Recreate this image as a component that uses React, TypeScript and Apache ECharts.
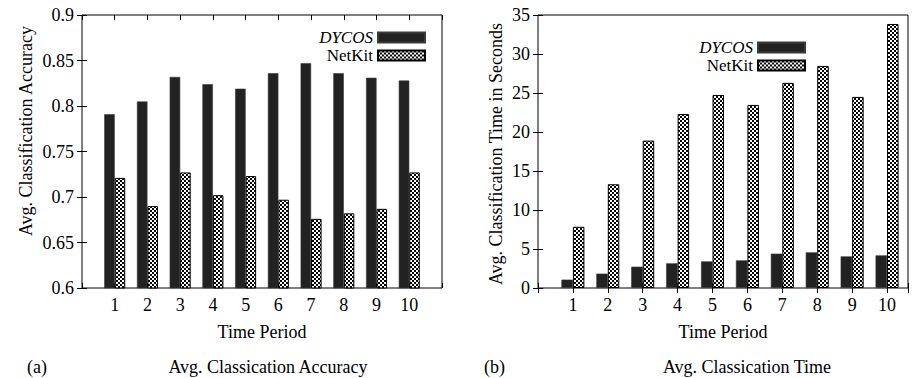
import React, { useEffect, useRef } from 'react';
import * as echarts from 'echarts';

const periods = [1, 2, 3, 4, 5, 6, 7, 8, 9, 10];
const accuracyDycos = [0.791, 0.805, 0.832, 0.824, 0.819, 0.836, 0.847, 0.836, 0.831, 0.828];
const accuracyNetkit = [0.721, 0.69, 0.727, 0.702, 0.723, 0.697, 0.676, 0.682, 0.687, 0.727];
const timeDycos = [1.07, 1.84, 2.73, 3.16, 3.41, 3.54, 4.4, 4.57, 4.05, 4.18];
const timeNetkit = [7.85, 13.3, 18.9, 22.3, 24.75, 23.47, 26.3, 28.47, 24.5, 33.85];
const seriesNames = ['DYCOS', 'NetKit'];

const FONT = 'Liberation Serif';
const FS = 18;
const LEGEND_FS = 17;

function makePattern() {
  const c = document.createElement('canvas');
  c.width = 4;
  c.height = 4;
  const ctx = c.getContext('2d')!;
  ctx.fillStyle = '#ffffff';
  ctx.fillRect(0, 0, 4, 4);
  ctx.fillStyle = '#000000';
  ctx.fillRect(0, 0, 2, 2);
  ctx.fillRect(2, 2, 2, 2);
  return c;
}

export default function App() {
  const ref = useRef<HTMLDivElement>(null);
  useEffect(() => {
    if (!ref.current) return;
    const chart = echarts.init(ref.current, undefined, { renderer: 'svg' });
    const pattern = { image: makePattern(), repeat: 'repeat' };
    const txt = { fontFamily: FONT, fontSize: FS, color: '#000' };
    const ltxt = { fontFamily: FONT, fontSize: LEGEND_FS, color: '#000' };

    const xAx = (grid: number, max: number, top: boolean) => ({
      type: 'value',
      gridIndex: grid,
      position: top ? 'top' : 'bottom',
      min: 0,
      max,
      interval: 1,
      axisLine: { show: false },
      axisTick: { show: true, inside: true, length: 5, lineStyle: { color: '#000', width: 1 } },
      axisLabel: {
        show: !top,
        margin: 8,
        ...txt,
        formatter: (v: number) => (Number.isInteger(v) && v >= 1 && v <= 10 ? String(v) : ''),
      },
      splitLine: { show: false },
      name: top ? '' : 'Time Period',
      nameLocation: 'middle',
      nameGap: 35,
      nameTextStyle: txt,
    });
    const yAx = (grid: number, min: number, max: number, interval: number, right: boolean) => ({
      type: 'value',
      gridIndex: grid,
      position: right ? 'right' : 'left',
      min,
      max,
      interval,
      axisLine: { show: false },
      axisTick: { show: true, inside: true, length: 5, lineStyle: { color: '#000', width: 1 } },
      axisLabel: { show: !right, margin: 8, ...txt },
      splitLine: { show: false },
    });

    const legendBase = {
      orient: 'vertical',
      align: 'right',
      padding: 0,
      itemWidth: 47,
      itemHeight: 10,
      itemGap: 1,
      icon: 'rect',
      data: seriesNames,
      textStyle: {
        ...ltxt,
        width: 58,
        align: 'right',
        rich: {
          i: { ...ltxt, fontStyle: 'italic' },
          n: { ...ltxt },
        },
      },
      formatter: (n: string) => (n === 'DYCOS' ? '{i|DYCOS}' : `{n|${n}}`),
    };

    const pair = (xs: number[], ys: number[]) => xs.map((x, i) => [x, ys[i]]);
    const bar = (name: string, axis: number, data: number[][], width: number) => ({
      type: 'bar',
      name,
      xAxisIndex: axis,
      yAxisIndex: axis,
      data,
      barWidth: width,
      barGap: '0%',
      itemStyle:
        name === 'DYCOS'
          ? { color: '#222222', borderColor: '#3a3a3a', borderWidth: 0.6 }
          : { color: pattern, borderColor: '#000', borderWidth: 1 },
    });

    const font = `${FS}px "${FONT}"`;
    chart.setOption({
      animation: false,
      backgroundColor: '#ffffff',
      grid: [
        { left: 82, top: 15, width: 360, height: 273, show: true, borderColor: '#000', borderWidth: 1, backgroundColor: 'transparent' },
        { left: 538, top: 15, width: 370, height: 273, show: true, borderColor: '#000', borderWidth: 1, backgroundColor: 'transparent' },
      ],
      xAxis: [xAx(0, 11, false), xAx(1, 10.6, false), xAx(0, 11, true), xAx(1, 10.6, true)],
      yAxis: [yAx(0, 0.6, 0.9, 0.05, false), yAx(1, 0, 35, 5, false), yAx(0, 0.6, 0.9, 0.05, true), yAx(1, 0, 35, 5, true)],
      legend: [
        { ...legendBase, right: 486, top: 29 },
        { ...legendBase, right: 106, top: 39 },
      ],
      series: [
        bar('DYCOS', 0, pair(periods, accuracyDycos), 10.5),
        bar('NetKit', 0, pair(periods, accuracyNetkit), 10.5),
        bar('DYCOS', 1, pair(periods, timeDycos), 11.5),
        bar('NetKit', 1, pair(periods, timeNetkit), 11.5),
      ],
      graphic: [
        { type: 'text', x: 26, y: 131, rotation: Math.PI / 2, style: { text: 'Avg. Classification Accuracy', font, fill: '#000', align: 'center', verticalAlign: 'middle' } },
        { type: 'text', x: 496, y: 154, rotation: Math.PI / 2, style: { text: 'Avg. Classification Time in Seconds', font, fill: '#000', align: 'center', verticalAlign: 'middle' } },
        { type: 'text', x: 27, y: 367, style: { text: '(a)', font, fill: '#000', align: 'left', verticalAlign: 'middle' } },
        { type: 'text', x: 268, y: 367, style: { text: 'Avg. Classication Accuracy', font, fill: '#000', align: 'center', verticalAlign: 'middle' } },
        { type: 'text', x: 484, y: 367, style: { text: '(b)', font, fill: '#000', align: 'left', verticalAlign: 'middle' } },
        { type: 'text', x: 747, y: 367, style: { text: 'Avg. Classication Time', font, fill: '#000', align: 'center', verticalAlign: 'middle' } },
      ],
    });
    return () => chart.dispose();
  }, []);
  return <div ref={ref} style={{ position: 'absolute', left: 0, top: 0, width: 912, height: 378, background: '#fff' }} />;
}
